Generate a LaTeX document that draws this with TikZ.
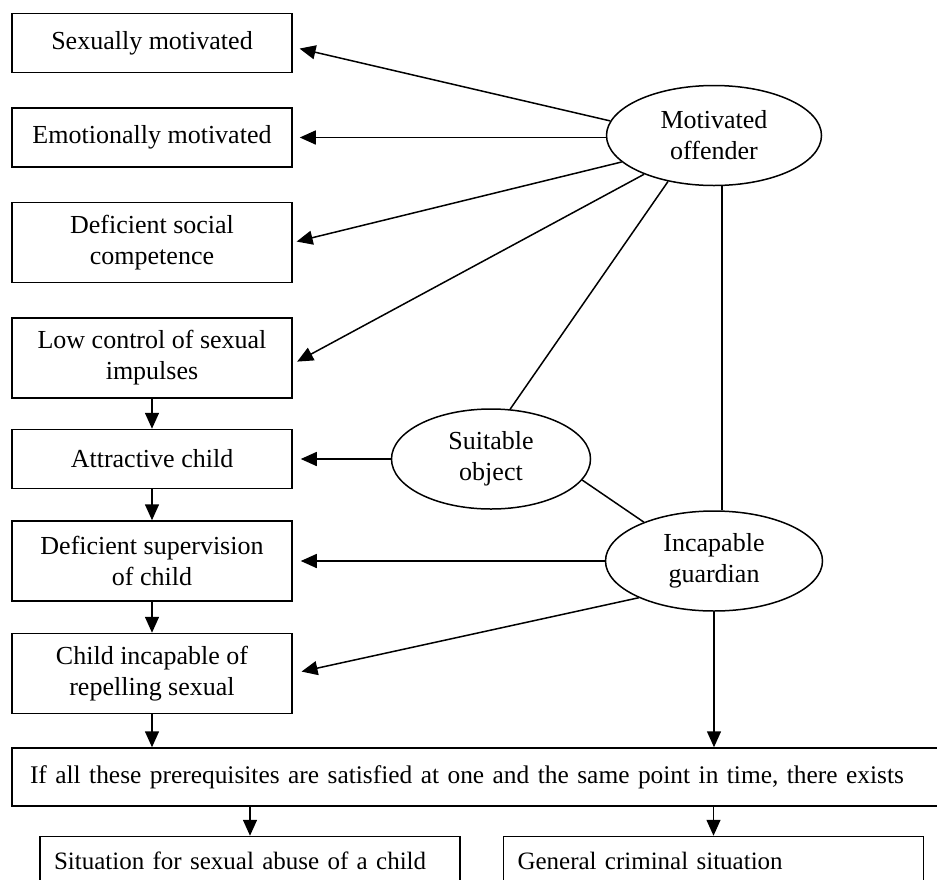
\documentclass[tikz,border=0pt]{standalone}
\usepackage{fontspec}
\setmainfont{Liberation Serif}
\usetikzlibrary{positioning,shapes.geometric,arrows.meta}

\begin{document}
\begin{tikzpicture}[x=1pt,y=-1pt,line width=1.5pt,
 font=\fontsize{26}{31}\selectfont,
 >={Triangle[length=16pt,width=14pt]},
 factor/.style={draw,rectangle,minimum width=280pt,minimum height=59pt,align=center,inner sep=4pt},
 factortwo/.style={factor,minimum height=80pt},
 element/.style={draw,ellipse,inner sep=0pt,minimum height=100pt,align=center},
 situation/.style={draw,rectangle,text width=392pt,inner xsep=14pt,inner ysep=8pt,text height=25pt,text depth=40pt,
 align=left,font=\fontsize{25}{31}\selectfont}]
 \path[use as bounding box,clip] (0,0) rectangle (937,879);

 % left column of prerequisites
 \node[factor] (sexual) at (152,43) {Sexually motivated};
 \node[factor, below=34pt of sexual] (emotional) {Emotionally motivated};
 \node[factortwo, below=34pt of emotional] (social) {Deficient social\\competence};
 \node[factortwo, below=34pt of social] (impulses) {Low control of sexual\\impulses};
 \node[factor, below=30pt of impulses] (attractive) {Attractive child};
 \node[factortwo, below=31pt of attractive] (supervision) {Deficient supervision\\of child};
 \node[factortwo, below=31pt of supervision] (repelling) {Child incapable of\\repelling sexual};

 \node[draw,rectangle, below=33pt of repelling.south west, anchor=north west, text width=910pt,
 inner xsep=18pt, minimum height=58pt, align=left, font=\fontsize{25.4}{31}\selectfont] (prereq)
 {If all these prerequisites are satisfied at one and the same point in time, there exists};

 \node[situation, below=29pt of prereq.south west, anchor=north west, xshift=28pt] (abuse)
 {Situation for sexual abuse of a child};
 \node[situation, right=42pt of abuse] (general) {General criminal situation};

 % the three elements
 \node[element, right=312pt of supervision, minimum width=217pt] (guardian) {Incapable\\guardian};
 \node[element, right=98pt of attractive, minimum width=199pt] (suitable) {Suitable\\object};
 \node[element, above=324pt of guardian, minimum width=215pt] (offender) {Motivated\\offender};

 % arrows
 \draw[->,shorten >=7pt] (offender.172) -- ([yshift=-4pt]sexual.east);
 \draw[->,shorten >=7pt] (offender.west |- emotional) -- (emotional.east);
 \draw[->,shorten >=4pt] (offender.196) -- (social.east);
 \draw[->,shorten >=5pt] (offender.209) -- ([yshift=-6pt]impulses.east);
 \draw (offender.225) -- (suitable.69);
 \draw (offender.279) -- (offender.279 |- guardian.north);
 \draw[->,shorten >=8pt] (suitable) -- (attractive);
 \draw (suitable.347) -- (guardian.151);
 \draw[->,shorten >=8pt] (guardian) -- (supervision);
 \draw[->,shorten >=9pt] (guardian.206) -- (repelling.east);
 \draw[->] (impulses) -- (attractive);
 \draw[->] (attractive) -- (supervision);
 \draw[->] (supervision) -- (repelling);
 \draw[->] (repelling.south) -- (repelling.south |- prereq.north);
 \draw[->] (guardian.south) -- (guardian.south |- prereq.north);
 \draw[->] (abuse.north |- prereq.south) -- (abuse.north);
 \draw[->] (general.north |- prereq.south) -- (general.north);
\end{tikzpicture}
\end{document}
